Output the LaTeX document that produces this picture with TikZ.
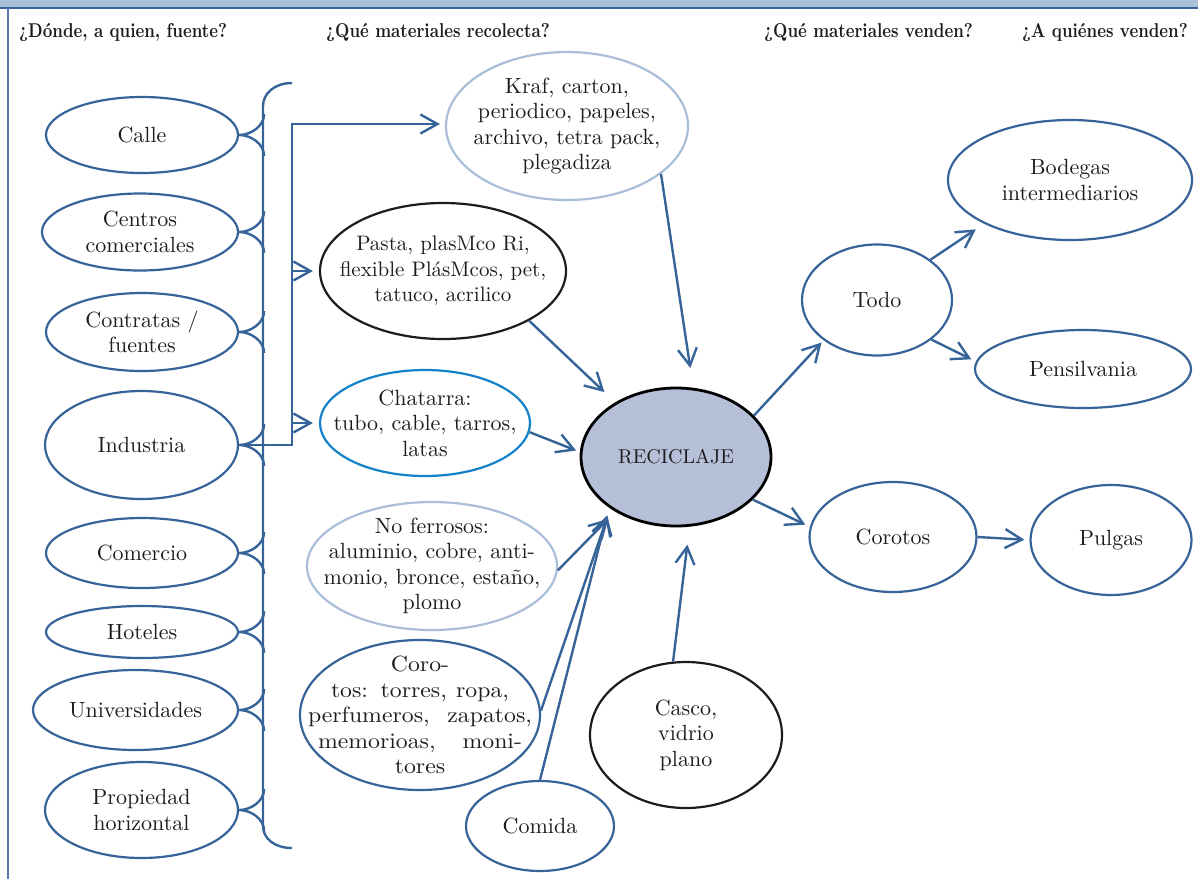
\documentclass[tikz,border=0pt]{standalone}
\usepackage{fontspec}
\usetikzlibrary{shapes.geometric,arrows.meta,calc}
\definecolor{lineblue}{RGB}{54,100,152}
\definecolor{paleblue}{RGB}{170,190,215}
\definecolor{brightblue}{RGB}{20,130,200}
\definecolor{inkblack}{RGB}{30,27,28}
\definecolor{recfill}{RGB}{182,191,216}
\definecolor{bandfill}{RGB}{169,192,216}
\newfontfamily\ellfam{lmroman10-regular.otf}
\newfontfamily\widefam{lmroman10-regular.otf}[FakeStretch=1.08]
\newfontfamily\headfam{lmroman10-bold.otf}[FakeStretch=0.83]
\newcommand\ellfont{\ellfam\fontsize{22}{25.5}\selectfont}
\newcommand\headfont{\headfam\fontsize{20}{24}\selectfont}
\begin{document}
\begin{tikzpicture}[x=1pt,y=-1pt,
  ell/.style={ellipse, draw=lineblue, line width=2.2pt, inner sep=0pt},
  lab/.style={align=center, text=inkblack, font=\ellfont, inner sep=0pt},
  txt/.style={label={[lab]center:{#1}}},
  head/.style={anchor=west, inner sep=0pt, text=inkblack, font=\headfont},
  conn/.style={draw=lineblue, line width=2.4pt},
  arr/.style={conn, -{Straight Barb[length=17pt,width=19pt]}},
  bracepath/.style={draw=lineblue, line width=2.4pt}]
\useasboundingbox (0,0) rectangle (1198,879);

% page band and frame
\fill[bandfill] (0,0) rectangle (1198,8);
\draw[lineblue, line width=1.6pt] (0,8) -- (1198,8);
\draw[lineblue!85, line width=1.4pt] (8,8) -- (8,879);

% column headings
\node[head] (h1) at (19,32) {¿Dónde, a quien, fuente?};
\node[head] (h2) at (326,32) {¿Qué materiales recolecta?};
\node[head] (h3) at (764,32) {¿Qué materiales venden?};
\node[head] (h4) at (1022,32) {¿A quiénes venden?};

% sources
\node[ell, minimum width=192, minimum height=76, txt={Calle}] (calle) at (142,135) {};
\node[ell, minimum width=196, minimum height=77, txt={Centros\\comerciales}] (centros) at (140,232) {};
\node[ell, minimum width=192, minimum height=78, txt={Contratas /\\fuentes}] (contratas) at (142,332) {};
\node[ell, minimum width=193, minimum height=108, txt={Industria}] (industria) at (141.5,445) {};
\node[ell, minimum width=192, minimum height=70, txt={Comercio}] (comercio) at (142,553) {};
\node[ell, minimum width=192, minimum height=52, txt={Hoteles}] (hoteles) at (142,632) {};
\node[ell, minimum width=205, minimum height=80, txt={Universidades}] (univ) at (135.5,710) {};
\node[ell, minimum width=193, minimum height=96, txt={Propiedad\\horizontal}] (prop) at (141.5,810) {};

% brace gathering the sources
\draw[bracepath] (292,83) .. controls +(-18,0) and +(0,-12) .. (263,106)
  -- (263,826) .. controls +(0,12) and +(-18,0) .. (292,848);
\foreach \n in {calle,centros,contratas,industria,comercio,hoteles,univ,prop}{
  \draw[bracepath] ($(\n.east)+(25,-21)$) .. controls +(0,12) and +(12,0) .. (\n.east)
    .. controls +(12,0) and +(0,-12) .. ($(\n.east)+(25,21)$);
}

% materials collected
\node[ell, draw=paleblue, minimum width=242, minimum height=148,
  txt={Kraf, carton,\\periodico, papeles,\\archivo, tetra pack,\\plegadiza}] (kraf) at (567,126) {};
\node[ell, draw=inkblack, minimum width=246, minimum height=136,
  label={[lab, font=\ellfam\fontsize{21}{25.5}\selectfont]center:{Pasta, plasMco Ri,\\flexible PlásMcos, pet,\\tatuco, acrilico}}] (pasta) at (443,271) {};
\node[ell, draw=brightblue, minimum width=210, minimum height=106,
  txt={Chatarra:\\tubo, cable, tarros,\\latas}] (chat) at (425,423) {};
\node[ell, draw=paleblue, minimum width=250, minimum height=128,
  txt={No ferrosos:\\aluminio, cobre, anti-\\monio, bronce, estaño,\\plomo}] (noferr) at (432,566) {};
\node[ell, minimum width=240, minimum height=150,
  label={[lab, font=\widefam\fontsize{22}{25.5}\selectfont]center:{Coro-\\\makebox[178pt][s]{tos: torres, ropa,}\\\makebox[224pt][s]{perfumeros, zapatos,}\\\makebox[204pt][s]{memorioas, moni-}\\tores}}] (corm) at (420,715) {};
\node[ell, minimum width=148, minimum height=90, txt={Comida}] (comida) at (540,826) {};
\node[ell, draw=inkblack, minimum width=192, minimum height=146,
  txt={Casco,\\vidrio\\plano}] (casco) at (686,735) {};

% hub
\node[ell, draw=black, fill=recfill, line width=2.8pt, minimum width=190, minimum height=138,
  label={[lab, font=\ellfam\fontsize{20}{24}\selectfont]center:RECICLAJE}] (rec) at (676,457) {};

% what is sold, and to whom
\node[ell, minimum width=150, minimum height=111, txt={Todo}] (todo) at (877,300) {};
\node[ell, minimum width=244, minimum height=120, txt={Bodegas\\intermediarios}] (bod) at (1070,180) {};
\node[ell, minimum width=216, minimum height=78, txt={Pensilvania}] (pens) at (1083,369) {};
\node[ell, minimum width=167, minimum height=110, txt={Corotos}] (corr) at (893,537) {};
\node[ell, minimum width=161, minimum height=110, txt={Pulgas}] (pulgas) at (1111,540) {};

% feed from the industry branch
\coordinate (j1) at (292,445);
\coordinate (j2) at (292,124);
\draw[arr, shorten >=5pt] (industria.east) -- (j1) -- (j2) -- (kraf.west |- j2);
\draw[arr, shorten >=6pt] (j1 |- pasta.west) -- (pasta.west);
\draw[arr, shorten >=6pt] (j1 |- chat.west) -- (chat.west);

% materials into recycling
\draw[arr, shorten >=20pt] (kraf.-27) -- (rec.76);
\draw[arr, shorten >=15pt] (pasta.-30) -- (rec.138);
\draw[arr, shorten >=4pt] (chat.-5) -- (rec.177);
\draw[arr, shorten >=10pt] (noferr.-2) -- (rec.222);
\draw[arr, shorten >=8pt] (corm.2) -- (rec.218);
\draw[arr, shorten >=8pt] (comida.north) -- (rec.217);
\draw[arr, shorten >=18pt] (casco.100) -- (rec.-79);

% sales
\draw[arr, shorten >=3pt] (rec.28) -- (todo.217);
\draw[arr, shorten >=10pt] (todo.37) -- (bod.207);
\draw[arr, shorten >=5pt] (todo.-36) -- (pens.176);
\draw[arr, shorten >=5pt] (rec.-29) -- (corr.173);
\draw[arr, shorten >=5pt] (corr.east) -- (pulgas.west);
\end{tikzpicture}
\end{document}
